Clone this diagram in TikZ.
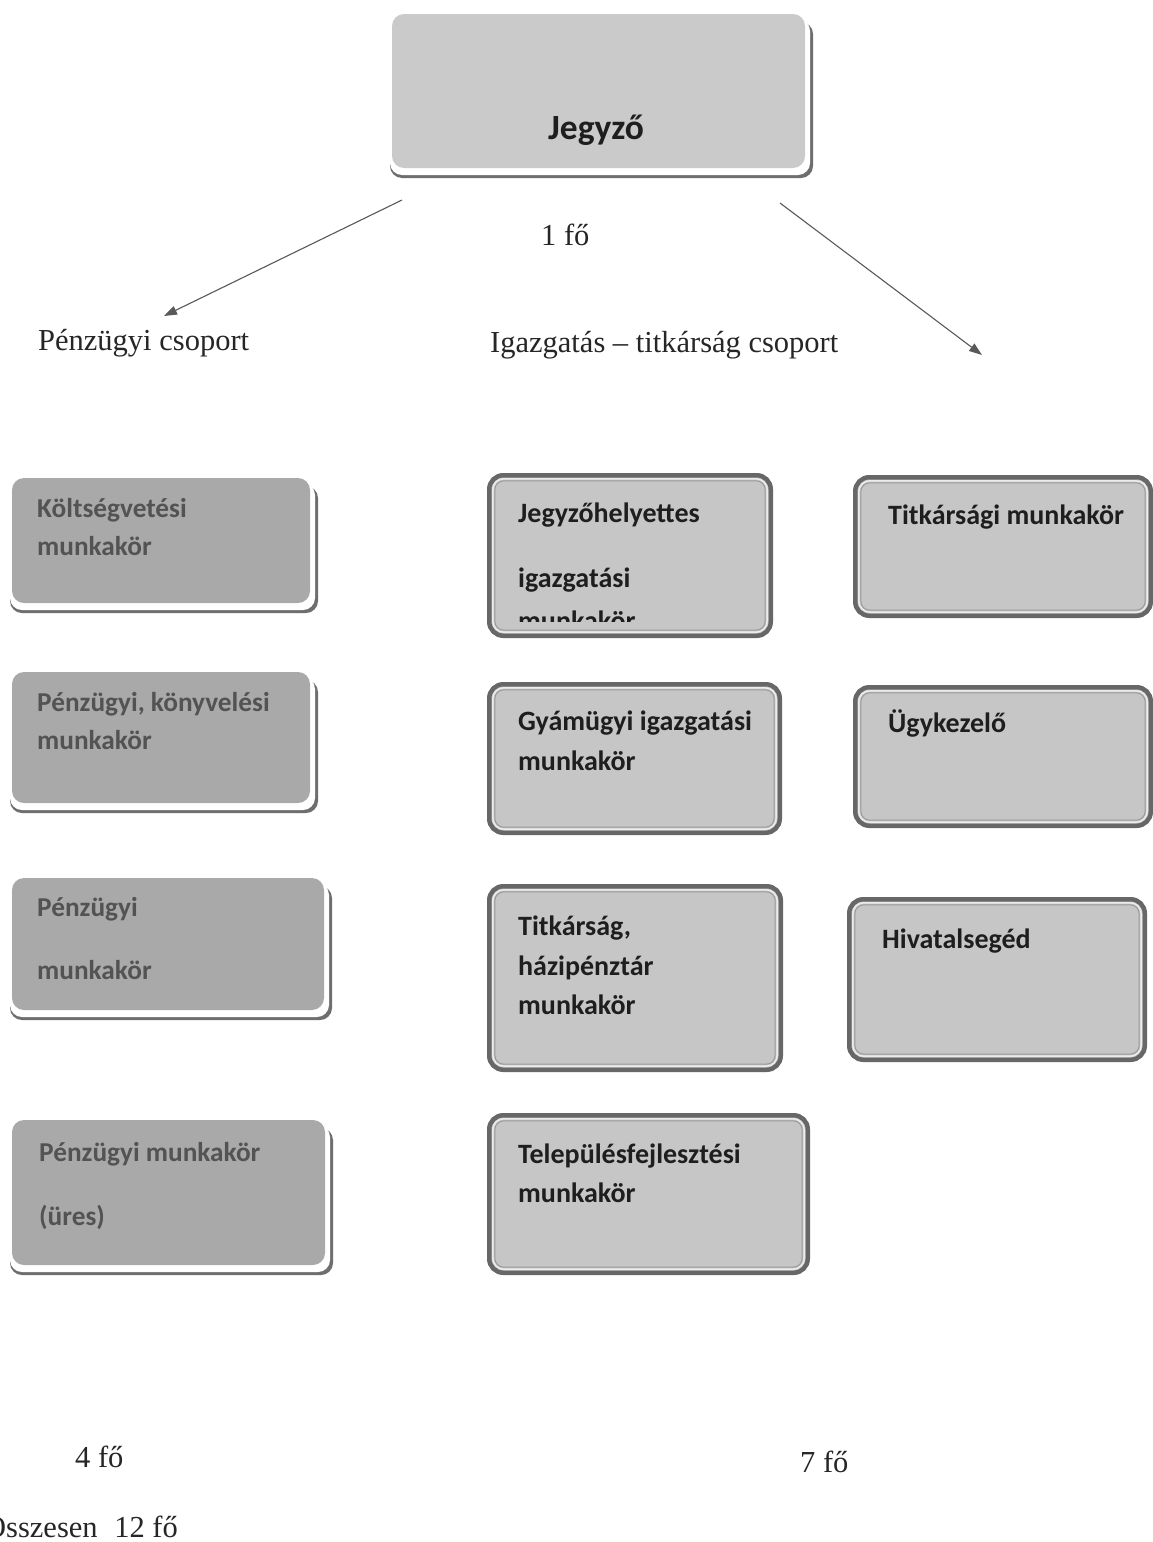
\documentclass[tikz,border=0pt]{standalone}
\usepackage{fontspec}
\setmainfont{Liberation Serif}
\newfontfamily\boxfont{Carlito}
\usetikzlibrary{arrows.meta}
\definecolor{lbg}{HTML}{A9A9A9}
\definecolor{mbg}{HTML}{C6C6C6}
\definecolor{jbg}{HTML}{CACACA}
\definecolor{ring}{HTML}{676767}
\definecolor{shd}{HTML}{6E6E6E}
\definecolor{ltx}{HTML}{535353}
\definecolor{dtx}{HTML}{1E1E1E}
\definecolor{arrc}{HTML}{595959}
\tikzset{
  shbox/.style={rounded corners=12pt, inner sep=0pt, outer sep=0pt},
  rgbox/.style={rounded corners=14pt, fill=mbg, draw=ring, line width=4.5pt, inner sep=0pt, outer sep=0pt},
  lt/.style={font=\boxfont\bfseries\fontsize{27.3}{31}\selectfont, text=ltx, anchor=base west, inner sep=0pt},
  mt/.style={font=\boxfont\bfseries\fontsize{28}{32}\selectfont, text=dtx, anchor=base west, inner sep=0pt},
  tt/.style={font=\fontsize{30.5}{35}\selectfont, text=black!85, anchor=base west, inner sep=0pt},
  arr/.style={draw=arrc, line width=1.1pt, -{Triangle[length=13pt,width=9pt]}}
}
\newcommand\ShBox[6]{%
  \fill[shd,rounded corners=12pt] ({#2-2},{#3+8}) rectangle ({#4+8},{#5+10});
  \fill[white,rounded corners=12pt] ({#2-2},{#3+5}) rectangle ({#4+5},{#5+7});
  \node[shbox, fill=#6, anchor=north west, minimum width={(#4-#2)*1pt}, minimum height={(#5-#3)*1pt}] (#1) at (#2,#3) {};
}
\newcommand\RgBox[5]{%
  \node[rgbox, anchor=north west, minimum width={(#4-#2-4.5)*1pt}, minimum height={(#5-#3-4.5)*1pt}] (#1) at ({#2+2.25},{#3+2.25}) {};
  \draw[white!85!gray, line width=1.5pt, rounded corners=11pt] ({#2+5.8},{#3+5.8}) rectangle ({#4-5.8},{#5-5.8});
  \draw[gray!80, line width=1pt, rounded corners=9pt] ({#2+7.8},{#3+7.8}) rectangle ({#4-7.8},{#5-7.8});
}
\begin{document}
\begin{tikzpicture}[x=1pt,y=-1pt]
\useasboundingbox (0,0) rectangle (1153,1542);
\fill[white] (0,0) rectangle (1153,1542);

% top box
\ShBox{jegy}{392}{14}{805}{168}{jbg}
\node[font=\boxfont\bfseries\fontsize{35.5}{40}\selectfont, text=dtx, anchor=base, inner sep=0pt] (jegyt) at (596,139) {Jegyző};
\node[tt] (egy) at (541,245) {1 fő};

% arrows
\coordinate (ls) at (402,200);
\coordinate (le) at (164,316);
\coordinate (rs) at (780,203);
\coordinate (re) at (982,355);
\draw[arr] (ls) -- (le);
\draw[arr] (rs) -- (re);

\node[tt] (penz) at (38,350) {Pénzügyi csoport};
\node[tt] (igaz) at (490,352) {Igazgatás – titkárság csoport};

% left column
\ShBox{l1}{12}{478}{310}{603}{lbg}
\node[lt] (l1a) at (37,517) {Költségvetési};
\node[lt] (l1b) at (37,555) {munkakör};

\ShBox{l2}{12}{672}{310}{803}{lbg}
\node[lt] (l2a) at (37,711) {Pénzügyi, könyvelési};
\node[lt] (l2b) at (37,749) {munkakör};

\ShBox{l3}{12}{878}{324}{1010}{lbg}
\node[lt] (l3a) at (37,916) {Pénzügyi};
\node[lt] (l3b) at (37,979) {munkakör};

\ShBox{l4}{12}{1120}{325}{1265}{lbg}
\node[lt] (l4a) at (39,1161) {Pénzügyi munkakör};
\node[lt] (l4b) at (39,1225) {(üres)};

% middle column
\RgBox{m1}{487}{473}{773}{638}
\node[mt] (m1a) at (518,522) {Jegyzőhelyettes};
\node[mt] (m1b) at (518,587) {igazgatási};
\begin{scope}
  \clip (495,480) rectangle (765,621);
  \node[mt] (m1c) at (518,630) {munkakör};
\end{scope}

\RgBox{m2}{487}{682}{782}{835}
\node[mt] (m2a) at (518,730) {Gyámügyi igazgatási};
\node[mt] (m2b) at (518,770) {munkakör};

\RgBox{m3}{487}{884}{783}{1072}
\node[mt] (m3a) at (518,935) {Titkárság,};
\node[mt] (m3b) at (518,975) {házipénztár};
\node[mt] (m3c) at (518,1014) {munkakör};

\RgBox{m4}{487}{1113}{810}{1275}
\node[mt] (m4a) at (518,1163) {Településfejlesztési};
\node[mt] (m4b) at (518,1202) {munkakör};

% right column
\RgBox{r1}{853}{475}{1153}{618}
\node[mt] (r1a) at (888,524) {Titkársági munkakör};

\RgBox{r2}{853}{685}{1153}{828}
\node[mt] (r2a) at (888,732) {Ügykezelő};

\RgBox{r3}{847}{897}{1147}{1062}
\node[mt] (r3a) at (882,948) {Hivatalsegéd};

% totals
\node[tt] (negy) at (75,1467) {4 fő};
\node[tt] (het) at (800,1472) {7 fő};
\node[tt] (ossz) at (-16,1537) {Összesen\hspace{9pt} 12 fő};
\end{tikzpicture}
\end{document}
